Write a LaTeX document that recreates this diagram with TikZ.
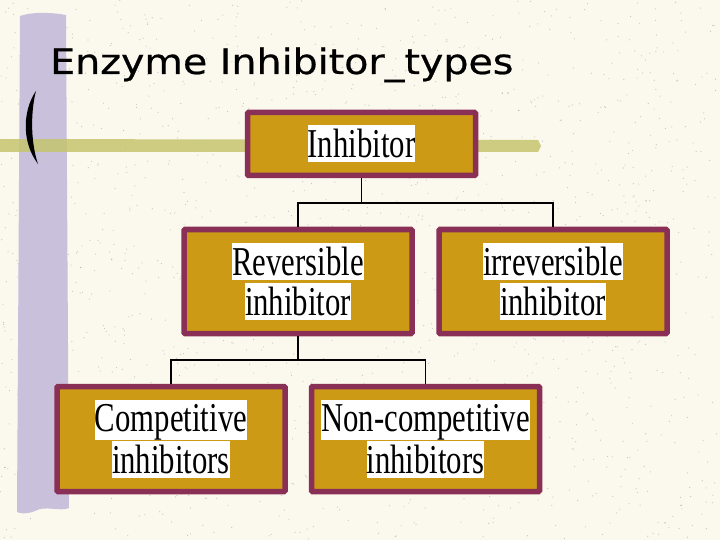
\documentclass[tikz,border=0pt]{standalone}
\usepackage{fontspec}
\usepackage{xcolor}
\usepackage{tikz}
\usetikzlibrary{positioning}
\newfontfamily\boxfont[FakeStretch=0.75]{Liberation Serif}
\newfontfamily\titlefont[FakeStretch=1.13,FakeBold=0.6]{DejaVu Sans}
\definecolor{paper}{HTML}{FBF9EE}
\definecolor{lavbar}{HTML}{C9C0DC}
\definecolor{olivebar}{HTML}{C5C56E}
\definecolor{boxgold}{HTML}{CC9A14}
\definecolor{boxrim}{HTML}{8A3056}
\newcommand{\wline}[1]{\colorbox{white}{\rule[-5pt]{0pt}{37pt}#1}}

\begin{document}
\begin{tikzpicture}[x=1pt,y=-1pt]
    \tikzstyle{typebox} = [draw=boxrim,fill=boxgold,line width=5.5pt,rounded corners=1pt,
        minimum width=228pt,align=center,inner sep=0pt,
        font=\boxfont\fontsize{41}{40}\selectfont]
    \tikzstyle{link} = [draw,black,line width=1.6pt]
    \setlength{\fboxsep}{0pt}

    % paper and speckles
    \fill[paper] (0,0) rectangle (720,540);
    \useasboundingbox (0,0) rectangle (720,540);
    \pgfmathsetseed{11}
    \foreach \i in {1,...,1500}
        \fill[gray!80,opacity=0.55] (rnd*720,rnd*540) circle (0.6pt);

    % decoration bars
    \fill[lavbar] (20,16) .. controls (35,11) and (55,13) .. (66,15)
        -- (69,508) .. controls (60,512) and (45,505) .. (35,511)
        .. controls (28,514) and (20,514) .. (17,512) -- cycle;
    \fill[olivebar,opacity=0.85] (0,139) -- (538,140) -- (541,146) -- (538,152) -- (0,152) -- cycle;
    \fill[black] (36,91) .. controls (24,108) and (20,140) .. (38,164)
        .. controls (30,140) and (31,110) .. (36,91) -- cycle;

    % title
    \node[anchor=base west,inner sep=0pt] (title) at (50,74)
        {\titlefont\fontsize{35}{35}\selectfont Enzyme Inhibitor\_types};

    % boxes
    \node[typebox,minimum height=63pt] (inh) at (361.5,144) {\wline{Inhibitor}};
    \node[typebox,minimum height=104pt] (rev) at (298,281.5)
        {\wline{Reversible}\\\wline{inhibitor}};
    \node[typebox,minimum height=104pt] (irr) at (553,281.5)
        {\wline{irreversible}\\\wline{inhibitor}};
    \node[typebox,minimum height=105pt] (comp) at (171,439)
        {\wline{Competitive}\\\wline{inhibitors}};
    \node[typebox,minimum height=105pt] (noncomp) at (425.5,439)
        {\wline{Non-competitive}\\\wline{inhibitors}};

    % connectors
    \coordinate (j1) at (361.5,203);
    \coordinate (j2) at (298,360);
    \draw[link] (inh.south) -- (j1);
    \draw[link] (rev.north) |- (j1) -| (irr.north);
    \draw[link] (rev.south) -- (j2);
    \draw[link] (comp.north) |- (j2) -| (noncomp.north);

\end{tikzpicture}
\end{document}
